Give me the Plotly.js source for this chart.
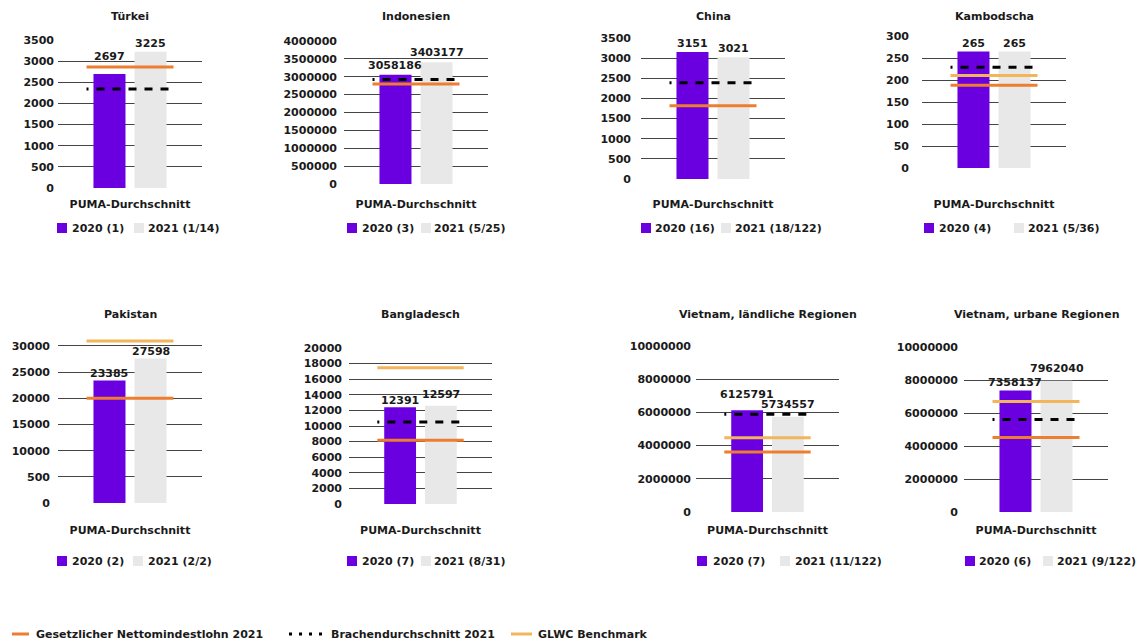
<!DOCTYPE html>
<html>
<head>
<meta charset="utf-8">
<script src="https://cdn.plot.ly/plotly-3.0.1.min.js"></script>
<style>
  html, body { margin: 0; padding: 0; background: #ffffff; }
  #chart { width: 1140px; height: 641px; }
</style>
</head>
<body>
<div id="chart"></div>
<script>
// Monthly net wages per country: PUMA supplier average 2020/2021 against
// the statutory net minimum wage, the industry average and the GLWC benchmark.
const countries = ['Türkei', 'Indonesien', 'China', 'Kambodscha',
  'Pakistan', 'Bangladesch', 'Vietnam, ländliche Regionen', 'Vietnam, urbane Regionen'];
const category = 'PUMA-Durchschnitt';

const avg2020 = [2697, 3058186, 3151, 265, 23385, 12391, 6125791, 7358137];
const avg2021 = [3225, 3403177, 3021, 265, 27598, 12597, 5734557, 7962040];
const names2020 = ['2020 (1)', '2020 (3)', '2020 (16)', '2020 (4)', '2020 (2)', '2020 (7)', '2020 (7)', '2020 (6)'];
const names2021 = ['2021 (1/14)', '2021 (5/25)', '2021 (18/122)', '2021 (5/36)', '2021 (2/2)', '2021 (8/31)', '2021 (11/122)', '2021 (9/122)'];

const minWage2021 = [2860, 2800000, 1820, 188, 20000, 8180, 3610000, 4510000];
const industryAvg2021 = [2340, 2920000, 2390, 229, null, 10500, 5890000, 5600000];
const glwcBenchmark = [null, null, null, 210, 30950, 17470, 4470000, 6700000];
const refNames = ['Gesetzlicher Nettomindestlohn 2021', 'Brachendurchschnitt 2021', 'GLWC Benchmark'];

// value axes
const axisMax = [3500, 4000000, 3500, 300, 30000, 20000, 10000000, 10000000];
const axisStep = [500, 500000, 500, 50, 5000, 2000, 2000000, 2000000];
const tickLabels = [null, null, null, null,
  ['0', '500', '10000', '15000', '20000', '25000', '30000'], null, null, null];

// ---- styling and placement ----
const W = 1140, H = 641;
const PURPLE = '#6a00e0', GREY = '#e8e8e8', ORANGE = '#ed7d31', GOLD = '#f2b55c', INK = '#1a1a1a', GRID = '#444444';
const FONT = { family: 'DejaVu Sans, sans-serif', size: 11, color: INK, weight: 700 };
const BARGAP = 0.43, GROUPGAP = 0.22, LINE_HALF = 0.302;
const DASH = '2px,8px,8px,8px,8px,8px,8px,8px,8px,8px,8px,8px';

// plot boxes in pixels: left, right, y of axis maximum, y of zero
const boxes = [
  [58, 202, 40, 188], [344, 488, 41, 184], [641, 785, 38, 179], [922, 1066, 36, 168],
  [58, 202, 346, 503], [349, 492, 348, 504], [696, 839, 346, 512], [964, 1108, 347, 512]
];
const labelGap = [3, 6, 9, 12, 7, 6, 4, 5];
const labelLift = [[17, 8], [9, 10], [9, 9], [8, 8], [7, 7], [7, 11], [16, 12], [8, 12.6]];
const titleY = [16, 314], catLabelY = [205, 531], legendY = [228, 561];
// legend: purple square x, its text x, grey square x, its text x
const legendX = [[57, 72, 134, 148], [347, 362, 421, 434], [641, 655, 721, 735], [924, 939, 1014, 1028],
  [57, 72, 133, 148], [347, 362, 421, 434], [697, 713, 780, 795], [965, 979, 1043, 1057]];

const px = v => v / W;
const py = v => 1 - v / H;

const traces = [], shapes = [], annotations = [];
const layout = {
  width: W, height: H, autosize: false,
  margin: { l: 0, r: 0, t: 0, b: 0, pad: 0 },
  paper_bgcolor: '#ffffff', plot_bgcolor: '#ffffff',
  barmode: 'group', bargap: BARGAP, bargroupgap: GROUPGAP,
  showlegend: false, font: FONT, hovermode: false
};

countries.forEach((country, i) => {
  const n = i + 1, sfx = n === 1 ? '' : String(n);
  const xid = 'x' + sfx, yid = 'y' + sfx;
  const row = i < 4 ? 0 : 1;
  const [left, right, yMaxPx, yZeroPx] = boxes[i];
  const refs = [minWage2021[i], industryAvg2021[i], glwcBenchmark[i]].filter(v => v != null);
  const top = Math.max(axisMax[i], ...refs.map(v => v * 1.02));
  const topPx = yZeroPx - (yZeroPx - yMaxPx) * top / axisMax[i];
  const tickVals = [];
  for (let v = 0; v <= axisMax[i]; v += axisStep[i]) tickVals.push(v);
  const tickText = tickLabels[i] || tickVals.map(String);

  layout['xaxis' + sfx] = {
    domain: [px(left), px(right)], anchor: yid, type: 'category', range: [-0.5, 0.5],
    showgrid: false, zeroline: false, showline: false, ticks: '',
    tickfont: FONT, ticklabelstandoff: catLabelY[row] - yZeroPx - 9, fixedrange: true
  };
  layout['yaxis' + sfx] = {
    domain: [py(yZeroPx), py(topPx)], anchor: xid, range: [0, top],
    tickmode: 'array', tickvals: tickVals, ticktext: tickText,
    showgrid: true, gridcolor: GRID, gridwidth: 1, zeroline: false, showline: false, ticks: '',
    tickfont: FONT, ticklabelstandoff: labelGap[i], fixedrange: true
  };

  traces.push({ type: 'bar', x: [category], y: [avg2020[i]], name: names2020[i],
    marker: { color: PURPLE }, xaxis: xid, yaxis: yid });
  traces.push({ type: 'bar', x: [category], y: [avg2021[i]], name: names2021[i],
    marker: { color: GREY }, xaxis: xid, yaxis: yid });

  // reference lines across both bars
  const refLine = (v, color, dash) => {
    if (v == null) return;
    shapes.push({ type: 'line', xref: xid, yref: yid, x0: -LINE_HALF, x1: LINE_HALF, y0: v, y1: v,
      line: { color: color, width: 3, dash: dash } });
  };
  refLine(glwcBenchmark[i], GOLD, 'solid');
  refLine(minWage2021[i], ORANGE, 'solid');
  refLine(industryAvg2021[i], '#000000', DASH);

  // value labels above the bars
  const slotShift = (1 - BARGAP) / 4 * (right - left);
  [avg2020[i], avg2021[i]].forEach((v, k) => {
    annotations.push({ xref: xid, yref: yid, x: category, y: v,
      xshift: (k ? 1 : -1) * slotShift, yshift: labelLift[i][k], yanchor: 'middle',
      text: String(v), showarrow: false, font: FONT });
  });

  // panel title
  annotations.push({ xref: xid + ' domain', x: 0.5, yref: 'paper', y: py(titleY[row]),
    yanchor: 'middle', text: country, showarrow: false, font: FONT });

  // panel legend
  const [sq1, t1, sq2, t2] = legendX[i];
  const ly = legendY[row];
  [[sq1, PURPLE], [sq2, GREY]].forEach(([sx, col]) => {
    shapes.push({ type: 'rect', xref: 'paper', yref: 'paper', x0: px(sx), x1: px(sx + 10),
      y0: py(ly + 5), y1: py(ly - 5), fillcolor: col, line: { width: 0 } });
  });
  [[t1, names2020[i]], [t2, names2021[i]]].forEach(([tx, label]) => {
    annotations.push({ xref: 'paper', yref: 'paper', x: px(tx - 2), y: py(ly),
      xanchor: 'left', yanchor: 'middle', text: label, showarrow: false, font: FONT });
  });
});

// shared legend for the reference lines
const keyY = 634;
const keys = [
  { x0: 12, x1: 29, tx: 36, color: ORANGE, dash: 'solid' },
  { x0: 289, x1: 322, tx: 331, color: '#000000', dash: '3px,7px' },
  { x0: 511, x1: 532, tx: 538, color: GOLD, dash: 'solid' }
];
keys.forEach((k, j) => {
  shapes.push({ type: 'line', xref: 'paper', yref: 'paper', x0: px(k.x0), x1: px(k.x1),
    y0: py(keyY), y1: py(keyY), line: { color: k.color, width: 3, dash: k.dash } });
  annotations.push({ xref: 'paper', yref: 'paper', x: px(k.tx - 2), y: py(keyY),
    xanchor: 'left', yanchor: 'middle', text: refNames[j], showarrow: false, font: FONT });
});

layout.shapes = shapes;
layout.annotations = annotations;

Plotly.newPlot('chart', traces, layout, { displayModeBar: false, staticPlot: true });
</script>
</body>
</html>
